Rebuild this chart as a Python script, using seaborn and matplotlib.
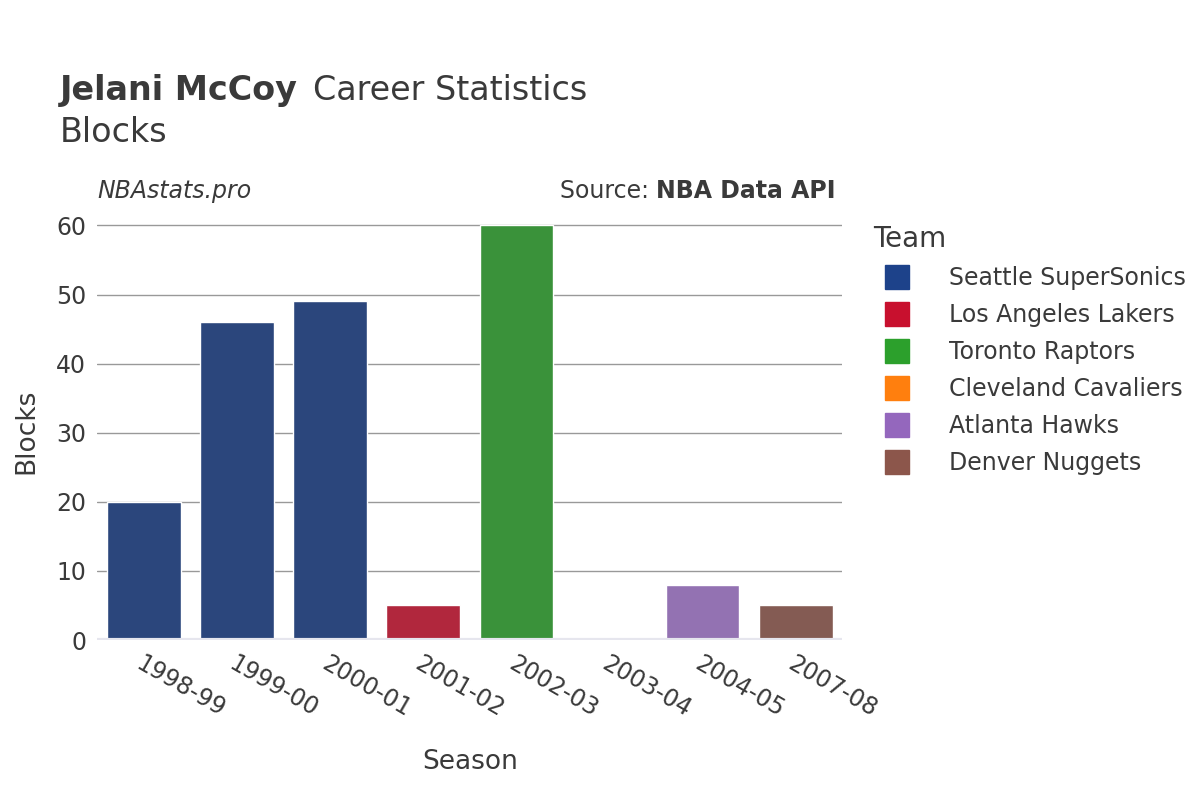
import seaborn as sns
import matplotlib.pyplot as plt
import pandas as pd
from matplotlib.lines import Line2D

seasons = ["1998-99", "1999-00", "2000-01", "2001-02", "2002-03", "2003-04", "2004-05", "2007-08"]
teams = ["Seattle SuperSonics", "Seattle SuperSonics", "Seattle SuperSonics", "Los Angeles Lakers",
         "Toronto Raptors", "Cleveland Cavaliers", "Atlanta Hawks", "Denver Nuggets"]
blocks = [20, 46, 49, 5, 60, 0, 8, 5]

team_order = ["Seattle SuperSonics", "Los Angeles Lakers", "Toronto Raptors",
              "Cleveland Cavaliers", "Atlanta Hawks", "Denver Nuggets"]
team_colors = ["#1d428a", "#c8102e", "#2ca02c", "#ff7f0e", "#9467bd", "#8c564b"]
palette = dict(zip(team_order, team_colors))

df = pd.DataFrame({"Season": seasons, "Team": teams, "Blocks": blocks})

sns.set_style("white")
plt.rcParams['font.family'] = ['DejaVu Sans']
txt = "#3a3a3a"

fig = plt.figure(figsize=(12, 8), dpi=100)
ax = fig.add_axes([0.081, 0.2, 0.621, 0.5225])
sns.barplot(data=df, x="Season", y="Blocks", hue="Team", hue_order=team_order,
            palette=palette, dodge=False, width=0.79, legend=False, ax=ax, zorder=3)
ax.set_ylim(0, 60.5)
ax.set_xlim(-0.5, 7.5)
ax.set_yticks(range(0, 61, 10))
ax.grid(axis="y", color="#999999", linewidth=1, zorder=0)
ax.axhline(0, color="#e6e6ee", linewidth=3, zorder=4)
for s in ax.spines.values():
    s.set_visible(False)
ax.tick_params(axis="both", length=0, labelsize=17, labelcolor=txt, pad=8)
plt.setp(ax.get_xticklabels(), rotation=-30, ha="left", rotation_mode="anchor")
ax.set_xlabel("Season", fontsize=19, color=txt, labelpad=20)
ax.set_ylabel("Blocks", fontsize=19, color=txt, labelpad=12)

fig.text(0.05, 0.875, "Jelani McCoy", fontsize=24, fontweight="bold", color=txt)
fig.text(0.261, 0.875, "Career Statistics", fontsize=24, color=txt)
fig.text(0.05, 0.822, "Blocks", fontsize=24, color=txt)
fig.text(0.081, 0.752, "NBAstats.pro", fontsize=17, style="italic", color=txt)
fig.text(0.547, 0.752, "Source: ", fontsize=17, color=txt, ha="right")
fig.text(0.547, 0.752, "NBA Data API", fontsize=17, fontweight="bold", color=txt)

handles = [Line2D([], [], marker="s", linestyle="", markersize=17, color=c) for c in team_colors]
leg = fig.legend(handles, team_order, loc="upper left", bbox_to_anchor=(0.71, 0.745),
                 frameon=False, fontsize=17, title="Team", title_fontsize=20,
                 labelspacing=0.55, handletextpad=1.2, labelcolor=txt)
leg.get_title().set_color(txt)
leg._legend_box.align = "left"

fig.savefig("out.png", dpi=100)
